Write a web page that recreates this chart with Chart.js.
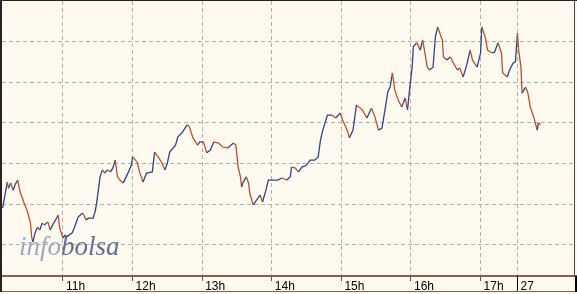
<!DOCTYPE html>
<html><head><meta charset="utf-8">
<script src="https://cdn.jsdelivr.net/npm/chart.js@4/dist/chart.umd.min.js"></script>
<style>html,body{margin:0;padding:0;background:#fffaf0;} #wrap{width:577px;height:294px;}</style>
</head><body><div id="wrap"><canvas id="c" width="577" height="294"></canvas></div>
<script>
const day26Times = [
"10:08","10:10","10:12","10:13","10:15","10:17","10:19","10:21","10:23","10:25",
"10:27","10:29","10:32","10:33","10:34","10:36","10:38","10:40","10:42","10:44",
"10:47","10:49","10:51","10:56","10:57","11:00","11:02","11:03","11:08","11:10",
"11:13","11:17","11:20","11:22","11:26","11:28","11:29","11:32","11:34","11:36",
"11:38","11:41","11:43","11:45","11:47","11:49","11:52","11:56","11:59","12:00",
"12:04","12:06","12:09","12:12","12:17","12:19","12:22","12:25","12:28","12:30",
"12:32","12:37","12:39","12:43","12:47","12:49","12:52","12:56","12:58","13:01",
"13:04","13:07","13:10","13:14","13:18","13:22","13:27","13:29","13:31","13:33",
"13:34","13:35","13:38","13:40","13:41","13:44","13:47","13:50","13:52","13:55",
"13:57","14:00","14:05","14:09","14:13","14:16","14:17","14:20","14:23","14:26",
"14:30","14:33","14:37","14:40","14:42","14:44","14:48","14:52","14:55","14:59",
"15:01","15:05","15:07","15:10","15:13","15:18","15:22","15:26","15:29","15:32",
"15:35","15:38","15:40","15:42","15:44","15:46","15:49","15:52","15:55","15:57",
"15:59","16:01","16:02","16:05","16:08","16:10","16:12","16:14","16:16","16:19",
"16:21","16:23","16:27","16:28","16:31","16:34","16:36","16:40","16:42","16:45",
"16:48","16:51","16:53","16:57","17:00","17:01","17:04","17:06","17:10","17:12",
"17:15","17:18","17:19","17:23","17:25","17:28","17:30"];
const day26Values = [
19.0,22.2,25.4,23.9,25.2,23.4,24.9,25.9,23.0,21.5,
19.8,18.5,15.3,11.9,10.6,12.9,14.3,13.6,15.3,14.8,
15.6,13.6,14.8,17.3,14.3,11.6,12.4,11.9,12.9,14.3,
16.8,17.8,16.1,16.5,16.5,18.5,20.2,26.7,28.4,27.6,
28.4,27.9,28.9,30.8,26.7,25.9,25.2,27.6,29.6,31.6,
30.3,27.9,25.4,27.6,27.9,32.8,31.6,30.3,28.4,30.1,
32.8,34.5,36.5,37.7,39.5,39.0,36.3,34.5,35.3,35.3,
32.6,33.3,35.3,35.0,34.0,33.8,35.0,34.5,29.1,26.7,
24.2,25.2,26.7,25.2,22.7,19.8,21.0,22.2,20.5,23.4,
25.9,25.9,25.9,26.4,25.9,26.7,29.1,28.9,27.9,29.1,
29.6,30.8,30.8,31.6,35.8,38.2,41.9,41.9,41.2,42.4,
40.7,38.2,36.3,38.2,44.4,43.2,41.2,43.6,41.4,38.2,
38.7,43.9,47.6,48.8,52.3,48.1,45.6,43.9,46.1,43.2,
48.8,53.7,58.7,59.7,57.9,60.4,57.2,53.7,53.0,53.7,
61.1,63.6,60.4,56.2,55.5,56.2,55.0,53.0,53.5,51.3,
54.2,57.9,55.5,53.7,57.2,63.6,61.1,57.9,57.2,57.4,
59.7,57.2,52.3,51.3,53.0,54.7,55.0];
const day27Times = ["09:00","09:01","09:03","09:04","09:07","09:09","09:11","09:14","09:17","09:18","09:20"];
const day27Values = [62.1,57.9,53.7,47.3,48.8,47.3,43.9,41.4,38.2,40.0,39.5];
const hourTicks = [11,12,13,14,15,16,17];
const hourLabels = ["11h","12h","13h","14h","15h","16h","17h"];
const dayLabel = "27";
const gridValues = [10,20,30,40,50,60];

const SESSION_BREAK = 17.53; // axis position where day 27 starts
const X_MIN = 10.124, X_MAX = 18.342, Y_MIN = 2.27, Y_MAX = 70;
const UP = '#33428a', DOWN = '#b8512c';
const GRID = '#b6b1a7';

const toHours = s => { const p = s.split(':').map(Number); return p[0] + p[1] / 60; };
const points = day26Times.map((t, i) => ({x: toHours(t), y: day26Values[i]}))
  .concat(day27Times.map((t, i) => ({x: SESSION_BREAK + toHours(t) - 9, y: day27Values[i]})));
const xTickValues = hourTicks.concat([SESSION_BREAK]);
const xTickLabels = hourLabels.concat([dayLabel]);

const frame = {
  id: 'frame',
  beforeDatasetsDraw(chart) {
    const {ctx, chartArea: a} = chart;
    ctx.save();
    ctx.font = 'italic 27px "Liberation Serif", "Times New Roman", serif';
    ctx.textBaseline = 'alphabetic';
    ctx.fillStyle = 'rgba(150,158,190,0.9)';
    const x0 = a.left + 17, y0 = a.bottom - 21;
    ctx.fillText('info', x0, y0);
    const w = ctx.measureText('info').width;
    ctx.fillStyle = 'rgba(80,94,138,0.9)';
    ctx.fillText('bolsa', x0 + w, y0);
    ctx.restore();
  },
  afterDraw(chart) {
    const {ctx, chartArea: a, width, height} = chart;
    const xs = chart.scales.x;
    ctx.save();
    ctx.fillStyle = '#8b5b55';
    ctx.fillRect(0, a.bottom - 1, width, 2);
    ctx.fillRect(0, height - 3, width, 1);
    ctx.fillStyle = '#2e2020';
    ctx.fillRect(0, 0, 2, height - 2);
    ctx.fillRect(0, 0, width, 1);
    ctx.fillStyle = '#5a3f3a';
    ctx.fillRect(a.right, 0, 1, a.bottom);
    ctx.fillStyle = '#000';
    ctx.fillRect(a.right + 1, a.bottom, 2, height - 2 - a.bottom);
    const bx = Math.round(xs.getPixelForValue(SESSION_BREAK));
    ctx.fillRect(bx, a.bottom, 1, height - 3 - a.bottom);
    ctx.restore();
  }
};

new Chart(document.getElementById('c'), {
  type: 'line',
  data: { datasets: [{
    data: points, borderWidth: 1.3, pointRadius: 0, tension: 0, borderColor: UP,
    segment: { borderColor: c => c.p1.parsed.y >= c.p0.parsed.y ? UP : DOWN }
  }]},
  options: {
    responsive: false, animation: false, devicePixelRatio: 1,
    layout: { padding: { left: 2, right: 3, top: 1, bottom: 0 } },
    plugins: { legend: { display: false }, tooltip: { enabled: false } },
    scales: {
      x: {
        type: 'linear', min: X_MIN, max: X_MAX,
        afterBuildTicks: s => { s.ticks = xTickValues.map(v => ({value: v})); },
        afterFit: s => { s.height = 18; },
        ticks: {
          autoSkip: false, maxRotation: 0, minRotation: 0, align: 'start', labelOffset: 3, padding: -2,
          color: '#000', font: { family: '"Liberation Sans", Arial, sans-serif', size: 12 },
          callback: (v, i) => xTickLabels[i]
        },
        grid: { color: GRID, lineWidth: 1, drawTicks: true, tickLength: 5,
                tickColor: c => c.index === xTickValues.length - 1 ? 'rgba(0,0,0,0)' : '#555', tickBorderDash: [] },
        border: { display: false, dash: [4, 3] }
      },
      y: {
        type: 'linear', min: Y_MIN, max: Y_MAX,
        afterBuildTicks: s => { s.ticks = gridValues.map(v => ({value: v})); },
        afterFit: s => { s.width = 0; },
        ticks: { display: false },
        grid: { color: GRID, lineWidth: 1, drawTicks: false },
        border: { display: false, dash: [4, 3] }
      }
    }
  },
  plugins: [frame]
});
</script></body></html>
